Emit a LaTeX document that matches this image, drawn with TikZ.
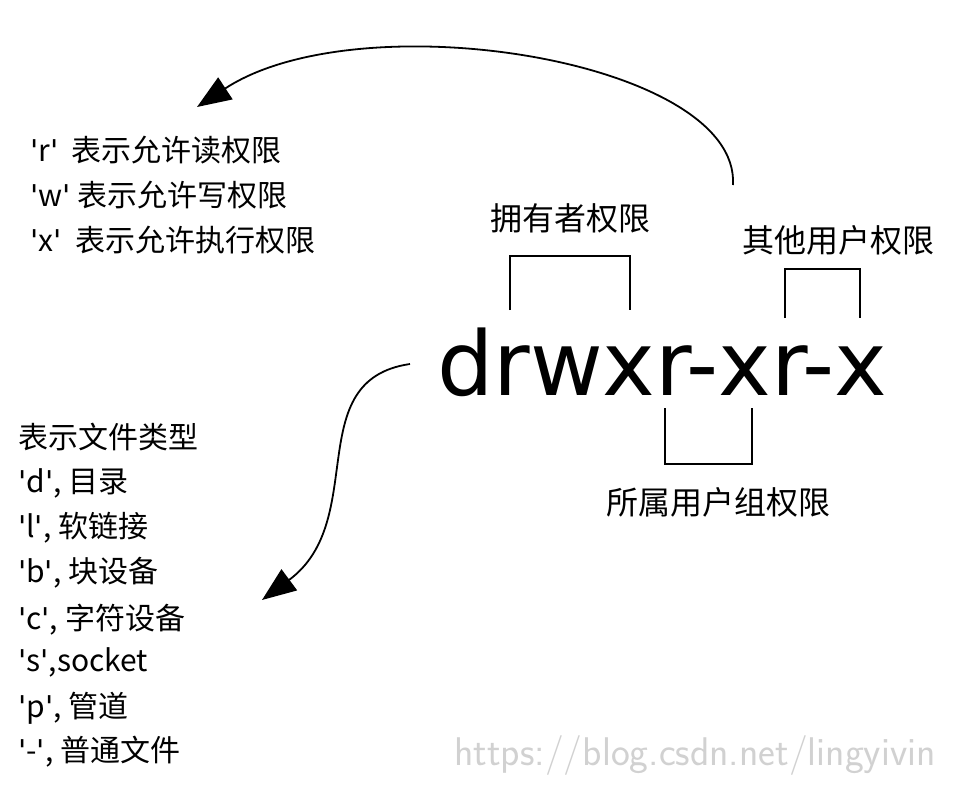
\documentclass[tikz,border=0pt]{standalone}
\usepackage{fontspec}
\setmainfont{Noto Sans CJK SC}
\newfontfamily\latf{DejaVu Sans}
\newcommand\qq{{\latf\char"27\relax}}
\usetikzlibrary{arrows.meta}
\begin{document}
\begin{tikzpicture}[x=1pt,y=-1pt,
  lbl/.style={anchor=west,inner sep=0pt,font=\fontsize{30}{34}\selectfont},
  tl/.style={inner sep=0pt,font=\fontsize{32}{36}\selectfont},
  brk/.style={line width=1.6pt},
  arr/.style={line width=1.8pt,-{Triangle[length=34pt,width=26pt]}}]
\useasboundingbox[fill=white] (0,0) rectangle (970,800);
\node[inner sep=0pt,font=\fontsize{89}{96}\selectfont\latf] (perm) at (662,362) {drwxr-xr-x};
% labels
\node[tl] (own) at (570,218) {拥有者权限};
\node[tl] (oth) at (838,240) {其他用户权限};
\node[tl] (grp) at (718,502) {所属用户组权限};
% brackets
\draw[brk] (510,310) -- (510,256) -- (630,256) -- (630,310);
\draw[brk] (785,318) -- (785,269) -- (860,269) -- (860,318);
\draw[brk] (665,408) -- (665,464) -- (752,464) -- (752,408);
% left texts
\node[lbl] (r) at (30,150) {\qq r\qq\ \ 表示允许读权限};
\node[lbl] (w) at (30,195) {\qq w\qq\ 表示允许写权限};
\node[lbl] (xx) at (30,240) {\qq x\qq\ \ 表示允许执行权限};
\node[lbl] (t0) at (18,437) {表示文件类型};
\node[lbl] (t1) at (18,483) {\qq d\qq, 目录};
\node[lbl] (t2) at (18,528) {\qq l\qq, 软链接};
\node[lbl] (t3) at (18,573) {\qq b\qq, 块设备};
\node[lbl] (t4) at (18,620) {\qq c\qq, 字符设备};
\node[lbl] (t5) at (18,662) {\qq s\qq,socket};
\node[lbl] (t6) at (18,708) {\qq p\qq, 管道};
\node[lbl] (t7) at (18,752) {\qq -\qq, 普通文件};
\coordinate (a1) at (733,185);
\coordinate (a1e) at (197,107);
\coordinate (a2) at (410,364);
\coordinate (a2e) at (262,600);
\draw[arr] (a1) .. controls (740,60) and (360,0) .. (a1e);
\draw[arr] (a2) .. controls (300,380) and (370,520) .. (a2e);
\node[inner sep=0pt,text=black!18,font=\fontsize{40}{44}\selectfont\sffamily] (wm) at (695,755) {https://blog.csdn.net/lingyivin};
\end{tikzpicture}
\end{document}
